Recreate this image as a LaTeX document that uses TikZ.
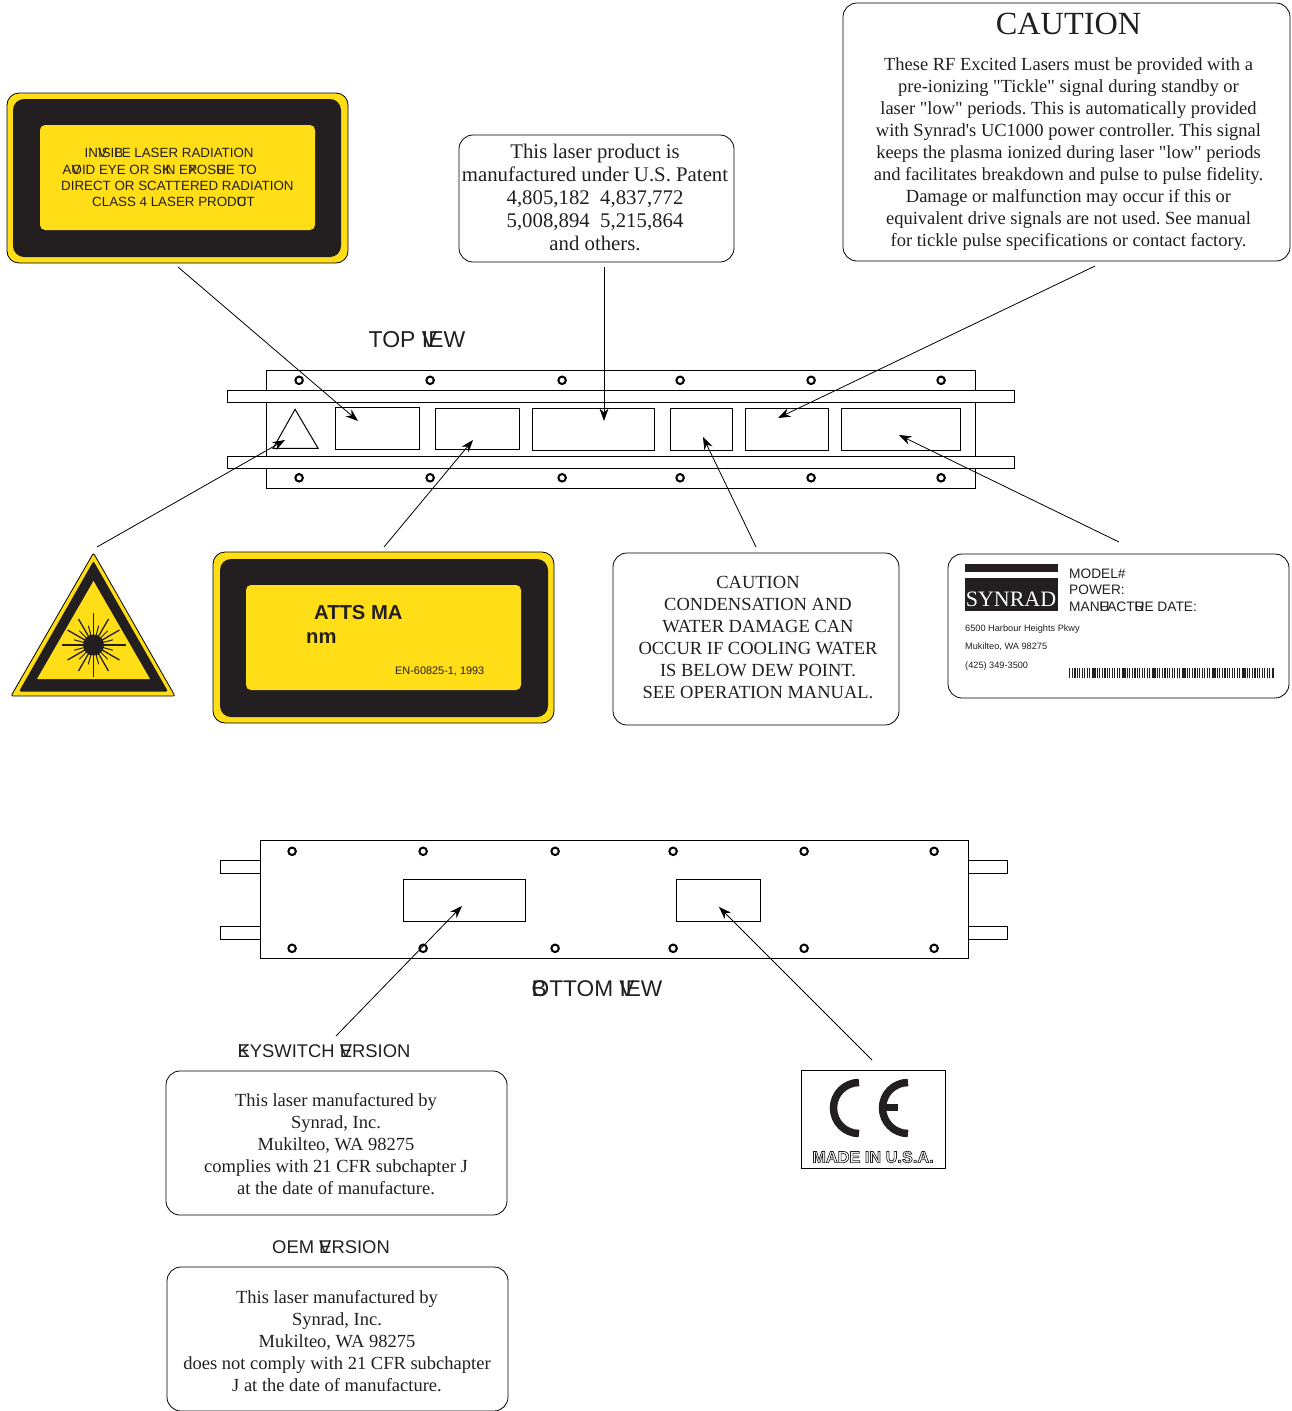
\documentclass[tikz,border=0pt]{standalone}
\usepackage{fontspec}
\usetikzlibrary{arrows.meta}
\newfontfamily\serifplain{Liberation Serif}
\setmainfont{Liberation Serif}
\newfontfamily\sansf{Liberation Sans}
\definecolor{lblyellow}{HTML}{FFDD17}
\definecolor{lblblack}{HTML}{231F20}
\newcommand{\zw}[1]{\rlap{#1}}
\newcommand{\fs}[2]{\fontsize{#1}{#2}\selectfont}
\frenchspacing
\tikzset{
  part/.style={draw=black,line width=1pt,fill=white},
  hole/.style={draw=black,line width=2pt,fill=white,circle,inner sep=0pt,minimum size=7.5pt},
  cutout/.style={draw=black,line width=1pt,inner sep=0pt,fill=white},
  callout/.style={draw=black,line width=0.8pt,rounded corners=14pt,inner sep=0pt,fill=white},
  serifblock/.style={align=center,inner sep=0pt,text=lblblack},
  sanslabel/.style={inner sep=0pt,text=lblblack,font=\sansf},
  leader/.style={draw=black,line width=0.8pt,-{Stealth[length=12.5pt,width=9pt]}},
}
\begin{document}
\begin{tikzpicture}[x=1pt,y=-1pt]
\useasboundingbox (0,0) rectangle (1291,1411);

% ---------- top view
\begin{scope}[shift={(0.1,0.3)}]
\draw[part] (266,370) rectangle (975,488);
\draw[part] (227,390) rectangle (1014,402);
\draw[part] (227,456) rectangle (1014,468);
\foreach \x in {299,430,562,680,811,941}{
  \node[hole] at (\x,380) {};
  \node[hole] at (\x,477.5) {};
}
\draw[part] (295,409) -- (318,448) -- (273,448) -- cycle;
\node[cutout,minimum width=84pt,minimum height=42pt] (r1) at (377,428) {};
\node[cutout,minimum width=84pt,minimum height=41pt] (r2) at (477,428.5) {};
\node[cutout,minimum width=122pt,minimum height=42pt] (r3) at (593,429) {};
\node[cutout,minimum width=62pt,minimum height=42pt] (r4) at (701,429) {};
\node[cutout,minimum width=83pt,minimum height=42pt] (r5) at (786.5,429) {};
\node[cutout,minimum width=119pt,minimum height=42pt] (r6) at (900.5,429) {};
\end{scope}
\node[sanslabel,font=\sansf\fs{23}{27}] (topview) at (417,339.5) {TOP \zw{V}IEW};

% ---------- bottom view
\begin{scope}[shift={(0.1,0.3)}]
\draw[part] (220,860) rectangle (260,873);
\draw[part] (220,926) rectangle (260,939);
\draw[part] (968,860) rectangle (1007,873);
\draw[part] (968,926) rectangle (1007,939);
\draw[part] (260,840) rectangle (968,958);
\foreach \x in {292,423,555,673,804,934}{
  \node[hole] at (\x,851) {};
  \node[hole] at (\x,948) {};
}
\node[cutout,minimum width=122pt,minimum height=42pt] (b1) at (464,900) {};
\node[cutout,minimum width=84pt,minimum height=42pt] (b2) at (718,900) {};
\end{scope}
\node[sanslabel,font=\sansf\fs{22.7}{27}] (bottomview) at (597,988.5) {\zw{B}OTTOM \zw{V}IEW};

% ---------- class 4 label
\draw[draw=black,line width=0.8pt,fill=lblyellow,rounded corners=12pt] (7,93) rectangle (348,263);
\draw[fill=lblblack,draw=none,rounded corners=11pt] (13,99) rectangle (341,257);
\draw[fill=lblyellow,draw=none,rounded corners=5pt] (40,125) rectangle (315,230);
\tikzset{c4/.style={sanslabel,anchor=west,font=\sansf\fs{13.35}{16}}}
\node[c4] (c4a) at (84.5,153) {IN\zw{V}ISI\zw{B}LE LASER RADIATION};
\node[c4] (c4b) at (62.5,169.5) {A\zw{V}OID EYE OR S\zw{K}IN E\zw{X}POS\zw{U}RE TO};
\node[c4] (c4c) at (61,185.5) {DIRECT OR SCATTERED RADIATION};
\node[c4] (c4d) at (92,201.5) {CLASS 4 LASER PROD\zw{U}CT};

% ---------- power label
\draw[draw=black,line width=0.8pt,fill=lblyellow,rounded corners=12pt] (213,552) rectangle (554,723);
\draw[fill=lblblack,draw=none,rounded corners=11pt] (220,559) rectangle (548,717);
\draw[fill=lblyellow,draw=none,rounded corners=5pt] (246,585) rectangle (521,690);
\node[sanslabel,anchor=west,font=\sansf\bfseries\fs{20.2}{24}] (watts) at (314,612.5) {ATTS MA};
\node[sanslabel,anchor=west,font=\sansf\bfseries\fs{20.2}{24}] (nm) at (306,638) {nm};
\node[sanslabel,anchor=west,font=\sansf\fs{10.9}{13}] (en) at (395,671.5) {EN-60825-1, 1993};

% ---------- warning triangle
\draw[draw=black,line width=0.8pt,fill=lblyellow,line join=round,rounded corners=2pt] (93.5,553) -- (175,696) -- (11,696) -- cycle;
\draw[draw=none,fill=lblblack,rounded corners=2pt] (93.5,561) -- (168,691.5) -- (19,691.5) -- cycle;
\draw[draw=none,fill=lblyellow] (93.5,581) -- (150,679) -- (37,679) -- cycle;
\begin{scope}[shift={(93.5,645)}]
  \fill[lblblack] (0,0) circle[radius=10.5pt];
  \foreach \a in {0,90,180,270}{\draw[lblblack,line width=1.6pt] (0,0) -- (\a:32);}
  \foreach \a in {30,60,120,150,210,240,300,330}{\draw[lblblack,line width=1.3pt] (0,0) -- (\a:30);}
  \foreach \a in {15,45,75,105,135,165,195,225,255,285,315,345}{\draw[lblblack,line width=1pt] (0,0) -- (\a:20);}
\end{scope}

% ---------- patent box
\node[callout,minimum width=275pt,minimum height=127pt] (patentbox) at (596.5,198.5) {};
\node[serifblock,font=\serifplain\fs{20.8}{23}] (patenttext) at (595,197.5) {This laser product is\\manufactured under U.S. Patent\\4,805,182\ \ 4,837,772\\5,008,894\ \ 5,215,864\\and others.};

% ---------- caution box
\node[callout,minimum width=447pt,minimum height=258pt] (cautionbox) at (1066.5,132) {};
\node[serifblock,font=\serifplain\fs{32.3}{36}] (cautionhead) at (1068.5,24) {CAUTION};
\node[serifblock,font=\serifplain\fs{18.5}{22}] (cautiontext) at (1068.5,154) {These RF Excited Lasers must be provided with a\\pre-ionizing "Tickle" signal during standby or\\laser "low" periods. This is automatically provided\\with Synrad's UC1000 power controller. This signal\\keeps the plasma ionized during laser "low" periods\\and facilitates breakdown and pulse to pulse fidelity.\\Damage or malfunction may occur if this or\\equivalent drive signals are not used. See manual\\for tickle pulse specifications or contact factory.};

% ---------- condensation box
\node[callout,minimum width=286pt,minimum height=172pt] (condbox) at (756,639) {};
\node[serifblock,font=\serifplain\fs{18.5}{22}] (condtext) at (758,637) {CAUTION\\CONDENSATION AND\\WATER DAMAGE CAN\\OCCUR IF COOLING WATER\\IS BELOW DEW POINT.\\SEE OPERATION MANUAL.};

% ---------- id label
\node[callout,minimum width=341pt,minimum height=144pt] (idbox) at (1118.5,626) {};
\fill[lblblack] (964.5,564) rectangle (1057.5,611);
\fill[white] (964.5,571.5) rectangle (1057.5,578);
\node[inner sep=0pt,text=white,font=\serifplain\fs{22}{27}] (synrad) at (1011,599.5) {SYNRAD};
\tikzset{idl/.style={sanslabel,anchor=west,font=\sansf\fs{13.7}{16}},ida/.style={sanslabel,anchor=west,font=\sansf\fs{9.2}{11}}}
\node[idl] (model) at (1069,573.5) {MODEL\#};
\node[idl] (power) at (1069,589.5) {POWER:};
\node[idl] (mfg) at (1069,606.5) {MAN\zw{U}FACT\zw{U}RE DATE:};
\node[ida] (addr1) at (965,629) {6500 Harbour Heights Pkwy};
\node[ida] (addr2) at (965,647) {Mukilteo, WA 98275};
\node[ida] (addr3) at (965,666) {(425) 349-3500};
\foreach \i in {0,...,81}{
  \pgfmathsetmacro{\bx}{1069+2.5*\i}
  \pgfmathsetmacro{\bw}{0.9+0.55*mod(\i*\i+5*\i+int(\i/4),3)}
  \fill[lblblack] (\bx,668) rectangle (\bx+\bw,678);
}

% ---------- keyswitch version
\node[sanslabel,font=\sansf\fs{18.4}{22}] (keyhead) at (324,1051) {\zw{K}EYSWITCH \zw{V}ERSION};
\node[callout,minimum width=341pt,minimum height=144pt] (keybox) at (336.5,1143) {};
\node[serifblock,font=\serifplain\fs{18.5}{22}] (keytext) at (336,1144) {This laser manufactured by\\Synrad, Inc.\\Mukilteo, WA 98275\\complies with 21 CFR subchapter J\\at the date of manufacture.};

% ---------- OEM version
\node[sanslabel,font=\sansf\fs{18.4}{22}] (oemhead) at (331,1247) {OEM \zw{V}ERSION};
\node[callout,minimum width=341pt,minimum height=144pt] (oembox) at (337.5,1339) {};
\node[serifblock,font=\serifplain\fs{18.5}{22}] (oemtext) at (337,1341) {This laser manufactured by\\Synrad, Inc.\\Mukilteo, WA 98275\\does not comply with 21 CFR subchapter\\J at the date of manufacture.};

% ---------- CE label
\node[draw=black,line width=0.9pt,inner sep=0pt,fill=white,minimum width=144pt,minimum height=98pt] (cebox) at (873,1119) {};
\draw[lblblack,line width=7.5pt] (859,1082.5) .. controls (844.9,1082.5) and (833.5,1093.9) .. (833.5,1108) .. controls (833.5,1122.1) and (844.9,1133.5) .. (859,1133.5);
\draw[lblblack,line width=7.5pt] (908,1082.5) .. controls (893.9,1082.5) and (882.5,1093.9) .. (882.5,1108) .. controls (882.5,1122.1) and (893.9,1133.5) .. (908,1133.5);
\fill[lblblack] (884,1103.5) rectangle (898,1110.5);
\node[inner sep=0pt,text=lblblack,font=\sansf\bfseries\fs{16.3}{19}] (madein) at (873,1157) {\special{pdf:code q 1 Tr 0.7 w}MADE IN U.S.A.\special{pdf:code Q}};

% ---------- leaders
\coordinate (l1) at (178,267);  \coordinate (t1) at (358,421);
\coordinate (l2) at (604,267);  \coordinate (t2) at (604,421);
\coordinate (l3) at (1095,266); \coordinate (t3) at (778,418);
\coordinate (l4) at (97,547);   \coordinate (t4) at (285,440);
\coordinate (l5) at (384,547);  \coordinate (t5) at (473,440);
\coordinate (l6) at (756,547);  \coordinate (t6) at (703,437);
\coordinate (l7) at (1119,542); \coordinate (t7) at (899,435);
\coordinate (l8) at (336,1036); \coordinate (t8) at (462,906);
\coordinate (l9) at (872,1060); \coordinate (t9) at (719,907);
\foreach \n in {1,...,9}{\draw[leader] (l\n) -- (t\n);}
\end{tikzpicture}
\end{document}
